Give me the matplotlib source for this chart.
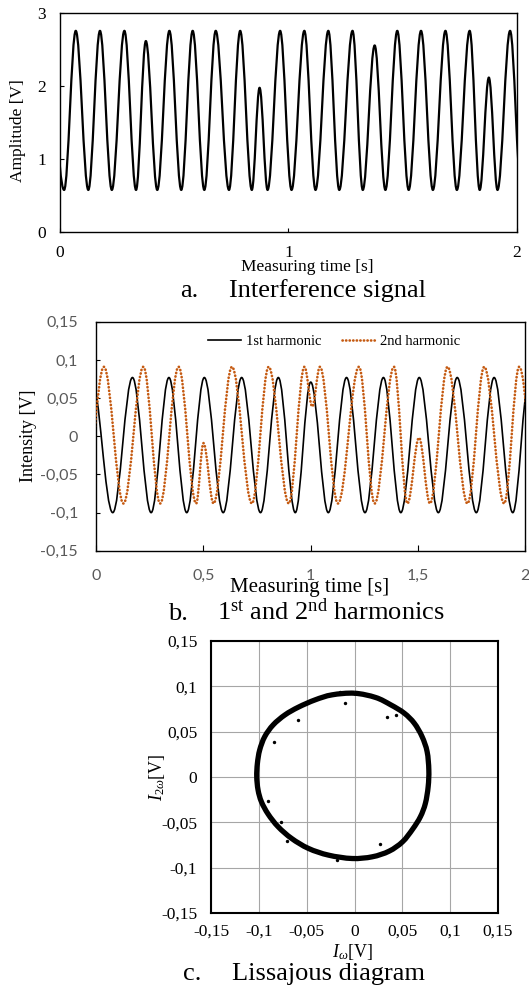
import matplotlib
matplotlib.use('Agg')
import matplotlib.pyplot as plt
from matplotlib.path import Path
from matplotlib.patches import PathPatch
from matplotlib.lines import Line2D

# ---------------- data ----------------
# Panel a: interference signal, extrema (time [s], amplitude [V])
A_T = [-0.057, 0.018, 0.069, 0.124, 0.175, 0.227, 0.282, 0.333, 0.376, 0.426,
       0.479, 0.531, 0.581, 0.632, 0.682, 0.740, 0.789, 0.840, 0.874, 0.909,
       0.964, 1.014, 1.070, 1.119, 1.175, 1.223, 1.281, 1.326, 1.378, 1.425,
       1.477, 1.527, 1.581, 1.633, 1.688, 1.738, 1.794, 1.838, 1.878, 1.916,
       1.971, 2.020]
A_V = [2.75, 0.58, 2.76, 0.58, 2.76, 0.58, 2.76, 0.58, 2.62, 0.58,
       2.76, 0.58, 2.76, 0.58, 2.76, 0.58, 2.76, 0.58, 1.98, 0.58,
       2.76, 0.58, 2.76, 0.58, 2.76, 0.58, 2.76, 0.58, 2.56, 0.58,
       2.76, 0.58, 2.76, 0.58, 2.76, 0.58, 2.76, 0.58, 2.12, 0.58,
       2.76, 0.58]

# Panel b: 1st harmonic extrema (time [s], intensity [V])
B1_T = [-0.021, 0.078, 0.170, 0.257, 0.340, 0.423, 0.505, 0.593, 0.679, 0.767,
        0.850, 0.929, 1.001, 1.083, 1.168, 1.254, 1.340, 1.421, 1.507, 1.596,
        1.684, 1.773, 1.856, 1.943, 2.020]
B1_V = [0.077, -0.100, 0.077, -0.100, 0.077, -0.100, 0.077, -0.100, 0.077, -0.100,
        0.077, -0.100, 0.071, -0.100, 0.077, -0.100, 0.077, -0.100, 0.077, -0.100,
        0.077, -0.100, 0.077, -0.100, 0.077]

# Panel b: 2nd harmonic extrema
B2_T = [-0.055, 0.037, 0.128, 0.221, 0.299, 0.385, 0.467, 0.501, 0.548, 0.634,
        0.727, 0.805, 0.899, 0.972, 1.008, 1.044, 1.128, 1.226, 1.299, 1.389,
        1.452, 1.506, 1.557, 1.639, 1.732, 1.810, 1.903, 1.973, 2.064]
B2_V = [-0.088, 0.091, -0.088, 0.091, -0.088, 0.091, -0.088, -0.009, -0.088, 0.091,
        -0.088, 0.091, -0.088, 0.091, 0.039, 0.091, -0.088, 0.091, -0.088, 0.091,
        -0.088, -0.002, -0.088, 0.091, -0.088, 0.091, -0.088, 0.091, -0.088]

# Panel c: Lissajous ring (I_w, I_2w) and stray points
RING_X = [0.0, -0.0235, -0.0411, -0.0587, -0.0727, -0.0850, -0.0938, -0.0991,
          -0.1015, -0.1022, -0.1008, -0.0973, -0.0903, -0.0798, -0.0657, -0.0481,
          -0.0271, -0.0025, 0.0186, 0.0362, 0.0502, 0.0608, 0.0689, 0.0741,
          0.0770, 0.0777, 0.0759, 0.0706, 0.0625, 0.0520, 0.0379, 0.0221]
RING_Y = [0.0924, 0.0906, 0.0851, 0.0770, 0.0685, 0.0575, 0.0446, 0.0298,
          0.0151, 0.0004, -0.0144, -0.0273, -0.0409, -0.0549, -0.0678, -0.0788,
          -0.0862, -0.0899, -0.0880, -0.0818, -0.0715, -0.0575, -0.0438, -0.0291,
          -0.0107, 0.0077, 0.0280, 0.0446, 0.0593, 0.0704, 0.0796, 0.0877]
STRAY_X = [-0.0148, -0.0095, -0.0594, -0.0833, -0.0840, 0.0344, 0.0432, 0.0643,
           -0.0903, -0.0770, -0.0710, 0.0264, -0.0183]
STRAY_Y = [0.0943, 0.0821, 0.0630, 0.0611, 0.0387, 0.0667, 0.0685, 0.0556,
           -0.0265, -0.0494, -0.0703, -0.0744, -0.0910]

A_XTICKS = [0, 1, 2]
A_YTICKS = [0, 1, 2, 3]
B_XTICKS = [0, 0.5, 1, 1.5, 2]
B_XLABELS = ['0', '0,5', '1', '1,5', '2']
BC_TICKS = [-0.15, -0.1, -0.05, 0, 0.05, 0.1, 0.15]
BC_LABELS = ['-0,15', '-0,1', '-0,05', '0', '0,05', '0,1', '0,15']
LEGEND_LABELS = ['1st harmonic', '2nd harmonic']

# ---------------- style ----------------
plt.rcParams['font.family'] = ['Liberation Serif', 'DejaVu Serif']
plt.rcParams['mathtext.fontset'] = 'custom'
plt.rcParams['mathtext.rm'] = 'Liberation Serif'
plt.rcParams['mathtext.it'] = 'Liberation Serif:italic'

ORANGE = '#C55A11'
GRAYTXT = '#595959'
W, H = 529, 996
fig = plt.figure(figsize=(W / 100, H / 100), dpi=100)
fig.patch.set_facecolor('white')


def axes_px(l, t, r, b):
    return fig.add_axes([l / W, 1 - b / H, (r - l) / W, (b - t) / H])


def smooth_path(ts, vs, k=0.36):
    """Smooth (Excel-like) curve through extrema with horizontal tangents."""
    verts = [(ts[0], vs[0])]
    codes = [Path.MOVETO]
    for i in range(len(ts) - 1):
        t0, v0, t1, v1 = ts[i], vs[i], ts[i + 1], vs[i + 1]
        dt = t1 - t0
        verts += [(t0 + k * dt, v0), (t1 - k * dt, v1), (t1, v1)]
        codes += [Path.CURVE4] * 3
    return Path(verts, codes)


def closed_smooth_path(xs, ys):
    """Closed Catmull-Rom style Bezier curve through the given points."""
    n = len(xs)
    verts = [(xs[0], ys[0])]
    codes = [Path.MOVETO]
    for i in range(n):
        p0 = (xs[i - 1], ys[i - 1])
        p1 = (xs[i], ys[i])
        p2 = (xs[(i + 1) % n], ys[(i + 1) % n])
        p3 = (xs[(i + 2) % n], ys[(i + 2) % n])
        c1 = (p1[0] + (p2[0] - p0[0]) / 6, p1[1] + (p2[1] - p0[1]) / 6)
        c2 = (p2[0] - (p3[0] - p1[0]) / 6, p2[1] - (p3[1] - p1[1]) / 6)
        verts += [c1, c2, p2]
        codes += [Path.CURVE4] * 3
    return Path(verts, codes)


# ---------------- panel a ----------------
axA = axes_px(60, 13.3, 516.7, 232.3)
axA.add_patch(PathPatch(smooth_path(A_T, A_V), fill=False, edgecolor='black',
                        lw=1.6, joinstyle='round', capstyle='round'))
axA.set_xlim(0, 2)
axA.set_ylim(0, 3)
axA.set_xticks(A_XTICKS)
axA.set_yticks(A_YTICKS)
axA.set_xticklabels([str(v) for v in A_XTICKS])
axA.set_yticklabels([str(v) for v in A_YTICKS])
axA.tick_params(direction='in', length=3, width=0.8, labelsize=12.5)
axA.tick_params(axis='x', pad=17.5)
axA.tick_params(axis='y', pad=10)
for lb in axA.get_xticklabels():
    lb.set_va('baseline')
for s in axA.spines.values():
    s.set_linewidth(1.0)
axA.set_xlabel('Measuring time [s]', fontsize=12.5)
axA.xaxis.set_label_coords(0.541, -0.175)
axA.xaxis.label.set_va('baseline')
axA.set_ylabel('Amplitude [V]', fontsize=12.5)
axA.yaxis.set_label_coords(-0.093, 0.4626)
axA.yaxis.label.set_va('center')

fig.text(180 / W, 1 - 297 / H, 'a.', fontsize=19, va='baseline', ha='left')
fig.text(229 / W, 1 - 297 / H, 'Interference signal', fontsize=19,
         va='baseline', ha='left')

# ---------------- panel b ----------------
DOTS = (0, (0.1, 1.25))
axB = axes_px(96, 321.8, 525, 550.8)
axB.add_patch(PathPatch(smooth_path(B1_T, B1_V), fill=False, edgecolor='black',
                        lw=1.2, joinstyle='round', zorder=2))
axB.add_patch(PathPatch(smooth_path(B2_T, B2_V), fill=False, edgecolor=ORANGE,
                        lw=1.9, linestyle=DOTS, capstyle='round', zorder=3))
axB.set_xlim(0, 2)
axB.set_ylim(-0.15, 0.15)
axB.set_xticks(B_XTICKS)
axB.set_xticklabels(B_XLABELS)
axB.set_yticks(BC_TICKS)
axB.set_yticklabels(BC_LABELS)
axB.tick_params(direction='in', width=0.8, labelsize=11.5, labelcolor=GRAYTXT)
axB.tick_params(axis='x', length=4, pad=21)
axB.tick_params(axis='y', length=3, pad=13)
for lb in axB.get_xticklabels() + axB.get_yticklabels():
    lb.set_family(['Lato', 'DejaVu Sans'])
for lb in axB.get_xticklabels():
    lb.set_va('baseline')
for s in axB.spines.values():
    s.set_linewidth(1.0)
axB.set_xlabel('Measuring time [s]', fontsize=15)
axB.xaxis.set_label_coords(0.498, -0.179)
axB.xaxis.label.set_va('baseline')
axB.set_ylabel('Intensity [V]', fontsize=13)
axB.yaxis.set_label_coords(-0.1585, 0.501)
axB.yaxis.label.set_va('center')

handles = [Line2D([], [], color='black', lw=1.2),
           Line2D([], [], color=ORANGE, lw=1.9, linestyle=DOTS,
                  dash_capstyle='round')]
axB.legend(handles, LEGEND_LABELS, ncol=2, frameon=False, fontsize=10.5,
           handlelength=2.3, handletextpad=0.35, columnspacing=1.37,
           loc='center', bbox_to_anchor=(0.555, 0.913), borderaxespad=0,
           borderpad=0)

fig.text(168 / W, 1 - 620 / H, 'b.', fontsize=19, va='baseline', ha='left')
fig.text(217 / W, 1 - 620 / H,
         r'1$^{\mathrm{st}}$ and 2$^{\mathrm{nd}}$ harmonics',
         fontsize=19, va='baseline', ha='left')

# ---------------- panel c ----------------
axC = axes_px(211, 641, 498, 913)
axC.add_patch(PathPatch(closed_smooth_path(RING_X, RING_Y), fill=False,
                        edgecolor='black', lw=3.8, joinstyle='round', zorder=3))
axC.scatter(STRAY_X, STRAY_Y, s=6, color='black', zorder=3, linewidths=0)
axC.set_xlim(-0.15, 0.15)
axC.set_ylim(-0.15, 0.15)
axC.set_xticks(BC_TICKS)
axC.set_xticklabels(BC_LABELS)
axC.set_yticks(BC_TICKS)
axC.set_yticklabels(BC_LABELS)
axC.grid(True, color='#A6A6A6', lw=0.8, zorder=0)
axC.set_axisbelow(True)
axC.tick_params(length=0, labelsize=12.5)
axC.tick_params(axis='x', pad=16.6)
axC.tick_params(axis='y', pad=9.9)
for lb in axC.get_xticklabels():
    lb.set_va('baseline')
for s in axC.spines.values():
    s.set_linewidth(1.5)
    s.set_zorder(4)
axC.set_xlabel(r'$I_{\omega}$[V]', fontsize=13)
axC.xaxis.set_label_coords(0.493, -0.162)
axC.xaxis.label.set_va('baseline')
axC.set_ylabel(r'$I_{2\omega}$[V]', fontsize=13)
axC.yaxis.set_label_coords(-0.189, 0.498)
axC.yaxis.label.set_va('center')

fig.text(183 / W, 1 - 980 / H, 'c.', fontsize=19, va='baseline', ha='left')
fig.text(231.7 / W, 1 - 980 / H, 'Lissajous diagram', fontsize=19,
         va='baseline', ha='left')

fig.savefig('out.png', dpi=100, facecolor='white')
